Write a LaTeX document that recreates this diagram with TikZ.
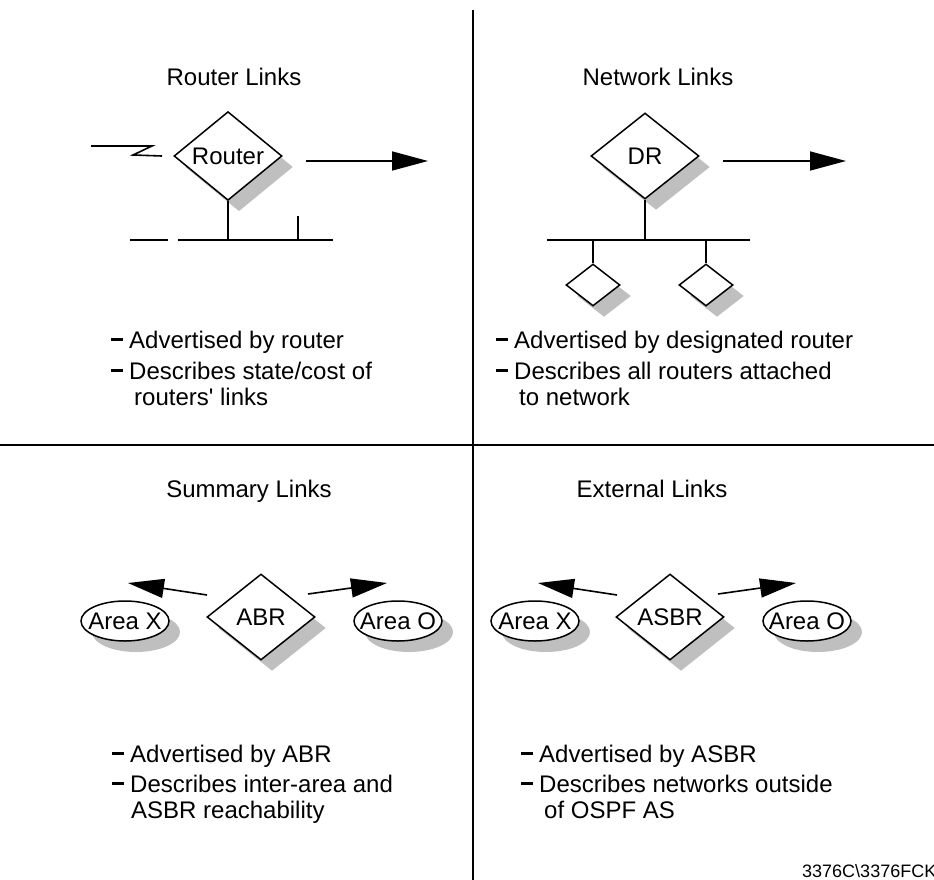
\documentclass[tikz,border=0pt]{standalone}
\usepackage{fontspec}
\setmainfont{Liberation Sans}
\usetikzlibrary{shapes.geometric,shadows,arrows.meta}
% bullet dash in front of each note
\newcommand\bul{\makebox[18pt][l]{\rule[7.5pt]{12pt}{2.6pt}}}
\begin{document}
\begin{tikzpicture}[x=1pt,y=-1pt,
  every node/.style={font=\fontsize{24}{26}\selectfont, inner sep=0pt},
  shade/.style={drop shadow={shadow xshift=11pt,shadow yshift=-11pt,fill=black!25,opacity=1}},
  router/.style={diamond, draw, line width=1.5pt, fill=white, minimum width=108pt, minimum height=86pt, shade},
  host/.style={router, minimum width=54pt, minimum height=42pt},
  area/.style={ellipse, draw, line width=1.5pt, fill=white, minimum width=88pt, minimum height=40pt, shade},
  title/.style={anchor=base},
  notes/.style={anchor=base west},
  line/.style={line width=1.6pt},
  ad/.style={line width=1.6pt, -{Triangle[length=36pt,width=19pt]}}]
\useasboundingbox (0,0) rectangle (934,880);
% quadrants
\draw[line width=1.8pt] (473,10) -- (473,880);
\draw[line width=1.8pt] (0,445) -- (934,445);

% router links
\node[title] (rlt) at (234,86) {Router Links};
\node[router] (rt) at (228,156) {Router};
\draw[line] (91,146) -- (152,146) -- (133,155) -- (162,156);
\coordinate (rtbus) at (228,240);
\draw[line] (rt.south) -- (rtbus);
\draw[line] (130,240) -- (168,240);
\draw[line] (178,240) -- (333,240);
\draw[line] (298,216) -- (298,240);
\coordinate (rtfrom) at (306,161);
\coordinate (rtto) at (428,161);
\draw[ad] (rtfrom) -- (rtto);
\node[notes] (rln) at (111,348) {\begin{tabular}[t]{@{}l@{}}\bul Advertised by router\\[5pt]\bul Describes state/cost of\\\hspace*{23pt}routers\textquotesingle{} links\end{tabular}};

% network links
\node[title] (nlt) at (658,86) {Network Links};
\node[router] (dr) at (645,156) {DR};
\coordinate (drbus) at (645,240);
\draw[line] (dr.south) -- (drbus);
\draw[line] (547,240) -- (750,240);
\node[host] (h1) at (593,285) {};
\node[host] (h2) at (706,285) {};
\draw[line] (h1.north |- drbus) -- (h1.north);
\draw[line] (h2.north |- drbus) -- (h2.north);
\coordinate (drfrom) at (723,161);
\coordinate (drto) at (846,161);
\draw[ad] (drfrom) -- (drto);
\node[notes] (nln) at (496,348) {\begin{tabular}[t]{@{}l@{}}\bul Advertised by designated router\\[5pt]\bul Describes all routers attached\\\hspace*{23pt}to network\end{tabular}};

% summary links
\node[title] (slt) at (249,497) {Summary Links};
\node[router] (abr) at (261,617) {ABR};
\node[area] (sx) at (125,621) {\makebox[0pt]{Area X}};
\node[area] (so) at (398,621) {\makebox[0pt]{Area O}};
\coordinate (sxfrom) at (207,595);
\coordinate (sxto) at (128,583);
\coordinate (sofrom) at (308,594);
\coordinate (soto) at (387,583);
\draw[ad] (sxfrom) -- (sxto);
\draw[ad] (sofrom) -- (soto);
\node[notes] (sln) at (112,762) {\begin{tabular}[t]{@{}l@{}}\bul Advertised by ABR\\[4pt]\bul Describes inter-area and\\\hspace*{19pt}ASBR reachability\end{tabular}};

% external links
\node[title] (elt) at (652,497) {External Links};
\node[router] (asbr) at (670,617) {ASBR};
\node[area] (ex) at (535,621) {\makebox[0pt]{Area X}};
\node[area] (eo) at (807,621) {\makebox[0pt]{Area O}};
\coordinate (exfrom) at (617,595);
\coordinate (exto) at (538,583);
\coordinate (eofrom) at (718,594);
\coordinate (eoto) at (796,583);
\draw[ad] (exfrom) -- (exto);
\draw[ad] (eofrom) -- (eoto);
\node[notes] (eln) at (521,762) {\begin{tabular}[t]{@{}l@{}}\bul Advertised by ASBR\\[4pt]\bul Describes networks outside\\\hspace*{23pt}of OSPF AS\end{tabular}};

\node[anchor=base west, font=\fontsize{18}{20}\selectfont] (fig) at (802,877) {3376C\textbackslash 3376FCK};
\end{tikzpicture}
\end{document}
